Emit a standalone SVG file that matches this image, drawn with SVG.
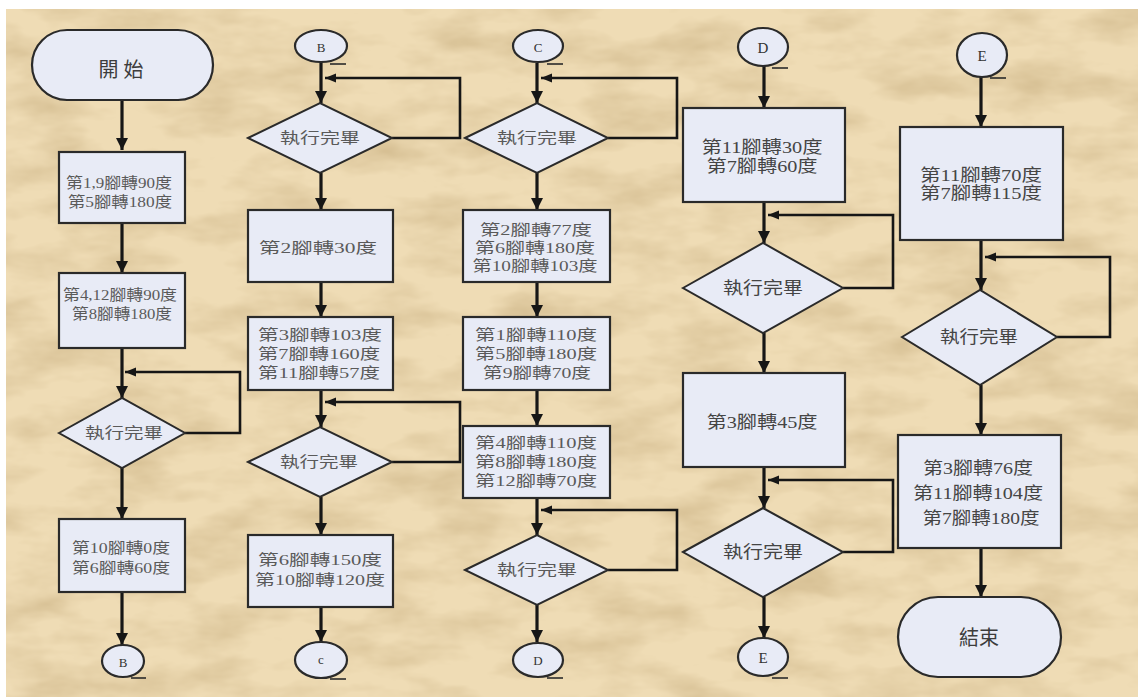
<svg xmlns="http://www.w3.org/2000/svg" width="1138" height="697" viewBox="0 0 1138 697">
<style>
.n{fill:#e8ebf6;stroke:#2a2a2a;stroke-width:2.2}
.d{fill:#e8ebf6;stroke:#2a2a2a;stroke-width:2}
.c{fill:none;stroke:#161616;stroke-width:3.2}
.l{fill:none;stroke:#161616;stroke-width:2.6}
.t{font-family:"Liberation Serif","Noto Sans CJK TC",serif;fill:#5a5a5a;text-anchor:middle;dominant-baseline:central;font-size:15px}
.t2{font-family:"Liberation Serif","Noto Sans CJK TC",serif;fill:#454545;text-anchor:middle;dominant-baseline:central;font-size:17px}
.tl{font-family:"Liberation Serif","Noto Sans CJK TC",serif;fill:#3c3c3c;text-anchor:middle;dominant-baseline:central;font-size:20px}
.cl{font-family:"Liberation Serif",serif;fill:#333;text-anchor:middle;dominant-baseline:central;font-size:13px}
.tail{stroke:#2a2a2a;stroke-width:1.6}
</style>
<defs>
<marker id="ah" markerUnits="userSpaceOnUse" markerWidth="12" markerHeight="13" refX="12" refY="6" orient="auto">
<path d="M0,0 L12,6 L0,12 z" fill="#161616"/>
</marker>
<marker id="al" markerUnits="userSpaceOnUse" markerWidth="12" markerHeight="10" refX="11" refY="4.5" orient="auto">
<path d="M0,0 L11,4.5 L0,9 z" fill="#161616"/>
</marker>
<filter id="paper" x="0" y="0" width="100%" height="100%">
<feTurbulence type="fractalNoise" baseFrequency="0.012 0.03" numOctaves="4" seed="7" result="n"/>
<feColorMatrix in="n" type="matrix" values="0 0 0 0 0.62  0 0 0 0 0.47  0 0 0 0 0.25  0 0 0 1.4 -0.55"/>
</filter>
</defs>
<rect x="0" y="0" width="1138" height="697" fill="#ffffff"/>
<rect x="6" y="9" width="1132" height="688" fill="#efdcb5"/>
<rect x="6" y="9" width="1132" height="688" filter="url(#paper)"/>

<g id="connectors">
<!-- column 1 -->
<path class="c" d="M122,100 V150" marker-end="url(#ah)"/>
<path class="c" d="M122,223 V273" marker-end="url(#ah)"/>
<path class="c" d="M122,348 V398" marker-end="url(#ah)"/>
<path class="l" d="M185,433 H240 V372 H125" marker-end="url(#al)"/>
<path class="c" d="M122,468 V519" marker-end="url(#ah)"/>
<path class="c" d="M122,592 V645" marker-end="url(#ah)"/>
<!-- column 2 -->
<path class="c" d="M321,62 V103" marker-end="url(#ah)"/>
<path class="l" d="M392,138 H460 V78 H325" marker-end="url(#al)"/>
<path class="c" d="M321,173 V210" marker-end="url(#ah)"/>
<path class="c" d="M321,282 V317" marker-end="url(#ah)"/>
<path class="c" d="M321,390 V427" marker-end="url(#ah)"/>
<path class="l" d="M392,462 H460 V402 H325" marker-end="url(#al)"/>
<path class="c" d="M321,497 V535" marker-end="url(#ah)"/>
<path class="c" d="M321,607 V642" marker-end="url(#ah)"/>
<!-- column 3 -->
<path class="c" d="M537,63 V103" marker-end="url(#ah)"/>
<path class="l" d="M608,138 H677 V78 H541" marker-end="url(#al)"/>
<path class="c" d="M537,173 V210" marker-end="url(#ah)"/>
<path class="c" d="M537,282 V317" marker-end="url(#ah)"/>
<path class="c" d="M537,390 V426" marker-end="url(#ah)"/>
<path class="c" d="M537,498 V535" marker-end="url(#ah)"/>
<path class="l" d="M608,570 H677 V510 H541" marker-end="url(#al)"/>
<path class="c" d="M537,605 V642" marker-end="url(#ah)"/>
<!-- column 4 -->
<path class="c" d="M764,66 V108" marker-end="url(#ah)"/>
<path class="c" d="M764,202 V243" marker-end="url(#ah)"/>
<path class="l" d="M843,288 H893 V215 H768" marker-end="url(#al)"/>
<path class="c" d="M764,333 V373" marker-end="url(#ah)"/>
<path class="c" d="M764,467 V508" marker-end="url(#ah)"/>
<path class="l" d="M843,552 H893 V480 H768" marker-end="url(#al)"/>
<path class="c" d="M764,597 V638" marker-end="url(#ah)"/>
<!-- column 5 -->
<path class="c" d="M981,77 V127" marker-end="url(#ah)"/>
<path class="c" d="M981,240 V290" marker-end="url(#ah)"/>
<path class="l" d="M1057,337 H1110 V257 H985" marker-end="url(#al)"/>
<path class="c" d="M981,385 V435" marker-end="url(#ah)"/>
<path class="c" d="M981,548 V597" marker-end="url(#ah)"/>
</g>

<!-- column 1 nodes -->
<g id="start">
<rect class="n" x="32" y="30" width="181" height="70" rx="35"/>
<text class="tl" x="121" y="70">開 始</text>
</g>
<g id="c1-box1">
<rect class="n" x="59" y="152" width="126" height="71"/>
<text class="t" x="119" y="183" textLength="106" lengthAdjust="spacingAndGlyphs">第1,9腳轉90度</text>
<text class="t" x="120" y="202" textLength="104" lengthAdjust="spacingAndGlyphs">第5腳轉180度</text>
</g>
<g id="c1-box2">
<rect class="n" x="59" y="273" width="126" height="75"/>
<text class="t" x="120" y="295" textLength="114" lengthAdjust="spacingAndGlyphs">第4,12腳轉90度</text>
<text class="t" x="122" y="314" textLength="100" lengthAdjust="spacingAndGlyphs">第8腳轉180度</text>
</g>
<g id="c1-dec">
<polygon class="d" points="59,433 122,398 185,433 122,468"/>
<text class="t" x="124" y="433" textLength="78" lengthAdjust="spacingAndGlyphs">執行完畢</text>
</g>
<g id="c1-box3">
<rect class="n" x="59" y="519" width="126" height="73"/>
<text class="t" x="121" y="548" textLength="98" lengthAdjust="spacingAndGlyphs">第10腳轉0度</text>
<text class="t" x="121" y="568" textLength="98" lengthAdjust="spacingAndGlyphs">第6腳轉60度</text>
</g>
<g id="c1-outB">
<ellipse class="n" cx="123" cy="661" rx="21" ry="16"/>
<line class="tail" x1="131" y1="678" x2="146" y2="678"/>
<text class="cl" x="123" y="662">B</text>
</g>

<!-- column 2 nodes -->
<g id="c2-inB">
<ellipse class="n" cx="321" cy="46" rx="26" ry="16"/>
<line class="tail" x1="330" y1="64" x2="346" y2="64"/>
<text class="cl" x="321" y="47">B</text>
</g>
<g id="c2-dec1">
<polygon class="d" points="248,138 320,103 392,138 320,173"/>
<text class="t" x="320" y="138" textLength="80" lengthAdjust="spacingAndGlyphs">執行完畢</text>
</g>
<g id="c2-box1">
<rect class="n" x="248" y="210" width="145" height="72"/>
<text class="t" x="318" y="248" textLength="118" lengthAdjust="spacingAndGlyphs">第2腳轉30度</text>
</g>
<g id="c2-box2">
<rect class="n" x="248" y="317" width="145" height="73"/>
<text class="t" x="320" y="335" textLength="124" lengthAdjust="spacingAndGlyphs">第3腳轉103度</text>
<text class="t" x="319" y="354" textLength="122" lengthAdjust="spacingAndGlyphs">第7腳轉160度</text>
<text class="t" x="319" y="373" textLength="122" lengthAdjust="spacingAndGlyphs">第11腳轉57度</text>
</g>
<g id="c2-dec2">
<polygon class="d" points="248,462 320,427 392,462 320,497"/>
<text class="t" x="319" y="462" textLength="78" lengthAdjust="spacingAndGlyphs">執行完畢</text>
</g>
<g id="c2-box3">
<rect class="n" x="248" y="535" width="145" height="72"/>
<text class="t" x="320" y="560" textLength="124" lengthAdjust="spacingAndGlyphs">第6腳轉150度</text>
<text class="t" x="320" y="580" textLength="130" lengthAdjust="spacingAndGlyphs">第10腳轉120度</text>
</g>
<g id="c2-outC">
<ellipse class="n" cx="321" cy="660" rx="26" ry="18"/>
<line class="tail" x1="330" y1="679" x2="346" y2="679"/>
<text class="cl" x="321" y="659">c</text>
</g>

<!-- column 3 nodes -->
<g id="c3-inC">
<ellipse class="n" cx="538" cy="46" rx="25" ry="16"/>
<line class="tail" x1="547" y1="64" x2="563" y2="64"/>
<text class="cl" x="538" y="47">C</text>
</g>
<g id="c3-dec1">
<polygon class="d" points="465,138 537,103 608,138 537,173"/>
<text class="t" x="537" y="138" textLength="80" lengthAdjust="spacingAndGlyphs">執行完畢</text>
</g>
<g id="c3-box1">
<rect class="n" x="463" y="210" width="147" height="72"/>
<text class="t" x="536" y="230" textLength="112" lengthAdjust="spacingAndGlyphs">第2腳轉77度</text>
<text class="t" x="535" y="248" textLength="120" lengthAdjust="spacingAndGlyphs">第6腳轉180度</text>
<text class="t" x="535" y="266" textLength="125" lengthAdjust="spacingAndGlyphs">第10腳轉103度</text>
</g>
<g id="c3-box2">
<rect class="n" x="463" y="317" width="147" height="73"/>
<text class="t" x="536" y="335" textLength="122" lengthAdjust="spacingAndGlyphs">第1腳轉110度</text>
<text class="t" x="536" y="354" textLength="122" lengthAdjust="spacingAndGlyphs">第5腳轉180度</text>
<text class="t" x="537" y="373" textLength="108" lengthAdjust="spacingAndGlyphs">第9腳轉70度</text>
</g>
<g id="c3-box3">
<rect class="n" x="463" y="426" width="147" height="72"/>
<text class="t" x="536" y="443" textLength="122" lengthAdjust="spacingAndGlyphs">第4腳轉110度</text>
<text class="t" x="536" y="462" textLength="122" lengthAdjust="spacingAndGlyphs">第8腳轉180度</text>
<text class="t" x="536" y="481" textLength="122" lengthAdjust="spacingAndGlyphs">第12腳轉70度</text>
</g>
<g id="c3-dec2">
<polygon class="d" points="465,570 537,535 608,570 537,605"/>
<text class="t" x="537" y="570" textLength="80" lengthAdjust="spacingAndGlyphs">執行完畢</text>
</g>
<g id="c3-outD">
<ellipse class="n" cx="538" cy="660" rx="25" ry="17"/>
<line class="tail" x1="547" y1="678" x2="563" y2="678"/>
<text class="cl" x="538" y="660">D</text>
</g>

<!-- column 4 nodes -->
<g id="c4-inD">
<ellipse class="n" cx="763" cy="47" rx="25" ry="19"/>
<line class="tail" x1="772" y1="68" x2="788" y2="68"/>
<text class="cl" x="763" y="48" style="font-size:15px">D</text>
</g>
<g id="c4-box1">
<rect class="n" x="683" y="108" width="162" height="94"/>
<text class="t2" x="762" y="147" textLength="121" lengthAdjust="spacingAndGlyphs">第11腳轉30度</text>
<text class="t2" x="762" y="166" textLength="111" lengthAdjust="spacingAndGlyphs">第7腳轉60度</text>
</g>
<g id="c4-dec1">
<polygon class="d" points="683,288 763,243 843,288 763,333"/>
<text class="t2" x="763" y="288" textLength="80" lengthAdjust="spacingAndGlyphs">執行完畢</text>
</g>
<g id="c4-box2">
<rect class="n" x="683" y="373" width="162" height="94"/>
<text class="t2" x="762" y="422" textLength="111" lengthAdjust="spacingAndGlyphs">第3腳轉45度</text>
</g>
<g id="c4-dec2">
<polygon class="d" points="683,552 763,508 843,552 763,597"/>
<text class="t2" x="763" y="552" textLength="80" lengthAdjust="spacingAndGlyphs">執行完畢</text>
</g>
<g id="c4-outE">
<ellipse class="n" cx="763" cy="657" rx="25" ry="19"/>
<line class="tail" x1="772" y1="678" x2="788" y2="678"/>
<text class="cl" x="763" y="658" style="font-size:15px">E</text>
</g>

<!-- column 5 nodes -->
<g id="c5-inE">
<ellipse class="n" cx="982" cy="55" rx="25" ry="22"/>
<line class="tail" x1="990" y1="78" x2="1006" y2="78"/>
<text class="cl" x="982" y="56" style="font-size:15px">E</text>
</g>
<g id="c5-box1">
<rect class="n" x="900" y="127" width="163" height="113"/>
<text class="t2" x="981" y="175" textLength="122" lengthAdjust="spacingAndGlyphs">第11腳轉70度</text>
<text class="t2" x="981" y="193" textLength="122" lengthAdjust="spacingAndGlyphs">第7腳轉115度</text>
</g>
<g id="c5-dec">
<polygon class="d" points="902,337 980,290 1057,337 980,385"/>
<text class="t2" x="979" y="337" textLength="78" lengthAdjust="spacingAndGlyphs">執行完畢</text>
</g>
<g id="c5-box2">
<rect class="n" x="898" y="435" width="163" height="113"/>
<text class="t2" x="978" y="468" textLength="110" lengthAdjust="spacingAndGlyphs">第3腳轉76度</text>
<text class="t2" x="978" y="493" textLength="130" lengthAdjust="spacingAndGlyphs">第11腳轉104度</text>
<text class="t2" x="981" y="518" textLength="117" lengthAdjust="spacingAndGlyphs">第7腳轉180度</text>
</g>
<g id="end">
<rect class="n" x="898" y="597" width="163" height="80" rx="40"/>
<text class="tl" x="979" y="638">結束</text>
</g>
</svg>
